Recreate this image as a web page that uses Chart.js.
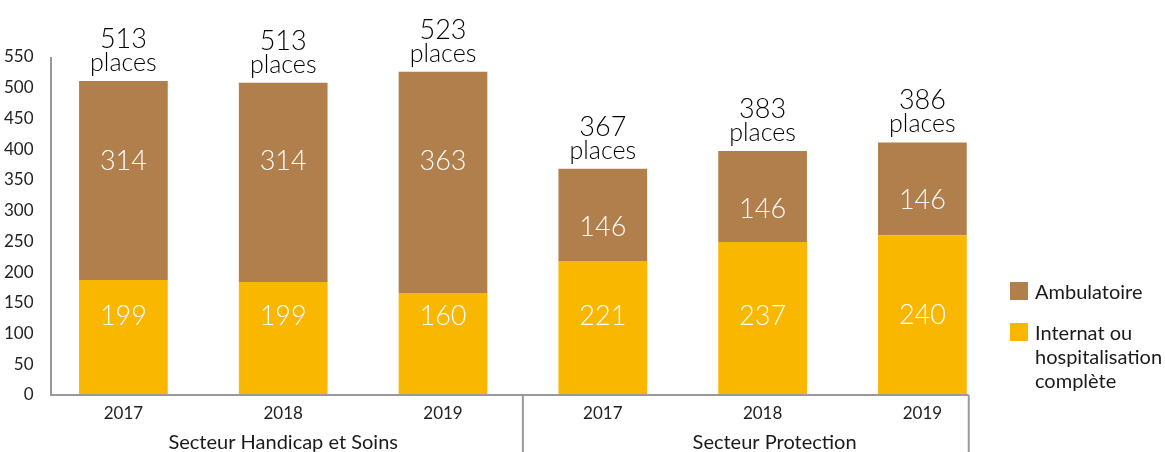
<!DOCTYPE html>
<html>
<head>
<meta charset="utf-8">
<script src="https://cdn.jsdelivr.net/npm/chart.js@4.4.1/dist/chart.umd.min.js"></script>
<style>
  html, body { margin: 0; padding: 0; background: #fff; }
  #wrap { width: 1165px; height: 452px; }
</style>
</head>
<body>
<div id="wrap"><canvas id="chart" width="1165" height="452"></canvas></div>
<script>
// categories
const years = ['2017', '2018', '2019', '2017', '2018', '2019'];
const sectors = ['Secteur Handicap et Soins', 'Secteur Protection'];
const sectorOfBar = [0, 0, 0, 1, 1, 1];

// bar heights as drawn in the picture
const internatBars = [187, 184, 166, 218, 249, 260];
const ambulatoireBars = [324, 324, 360, 150, 148, 151];

// figures printed on the chart
const internatLabels = [199, 199, 160, 221, 237, 240];
const ambulatoireLabels = [314, 314, 363, 146, 146, 146];
const totalLabels = [513, 513, 523, 367, 383, 386];

const yMax = 550;
const yStep = 50;

const FONT = 'Lato, "Open Sans", sans-serif';
const BROWN = '#B07F4B';
const YELLOW = '#F9B700';
const AXIS = '#999999';

const overlay = {
    id: 'overlay',
    afterDraw(chart) {
        const ctx = chart.ctx;
        const area = chart.chartArea;
        const x = chart.scales.x;
        const y = chart.scales.y;
        const low = chart.getDatasetMeta(0).data;
        const high = chart.getDatasetMeta(1).data;
        const last = low[low.length - 1];
        const axisLeft = area.left + 7.5;
        const axisRight = last.x + last.width / 2 + 2;

        ctx.save();
        // axis lines
        ctx.strokeStyle = AXIS;
        ctx.lineWidth = 2;
        ctx.beginPath();
        ctx.moveTo(axisLeft, area.top);
        ctx.lineTo(axisLeft, area.bottom);
        ctx.lineTo(axisRight, area.bottom);
        ctx.stroke();

        // group separators
        const split = (x.getPixelForValue(2) + x.getPixelForValue(3)) / 2;
        ctx.beginPath();
        ctx.moveTo(split, area.bottom);
        ctx.lineTo(split, chart.height);
        ctx.moveTo(axisRight, area.bottom);
        ctx.lineTo(axisRight, chart.height);
        ctx.stroke();

        // group labels
        ctx.fillStyle = '#1a1a1a';
        ctx.font = '20px ' + FONT;
        ctx.textAlign = 'center';
        ctx.textBaseline = 'alphabetic';
        sectors.forEach((name, g) => {
            const idx = sectorOfBar.map((s, i) => s === g ? i : -1).filter(i => i >= 0);
            const cx = idx.reduce((a, i) => a + x.getPixelForValue(i), 0) / idx.length;
            ctx.fillText(name, cx + g * 12, chart.height - 3);
        });

        // labels inside the bars
        ctx.fillStyle = '#ffffff';
        ctx.font = '300 27px ' + FONT;
        ctx.textBaseline = 'middle';
        low.forEach((bar, i) => {
            const mid = (bar.y + bar.base) / 2;
            ctx.fillText(String(internatLabels[i]), bar.x, Math.min(mid, y.getPixelForValue(128)));
        });
        high.forEach((bar, i) => {
            ctx.fillText(String(ambulatoireLabels[i]), bar.x, Math.max(y.getPixelForValue(380), bar.y + 58));
        });

        // totals above the bars
        ctx.fillStyle = '#000000';
        ctx.textBaseline = 'alphabetic';
        high.forEach((bar, i) => {
            ctx.font = '300 27px ' + FONT;
            ctx.fillText(String(totalLabels[i]), bar.x, bar.y - 33);
            ctx.font = '300 25px ' + FONT;
            ctx.fillText('places', bar.x, bar.y - 10);
        });

        // legend
        const lx = 1010;
        const items = chart.data.datasets.slice().reverse();
        const rows = [{ top: 282, lines: [items[0].label] },
                      { top: 323, lines: ['Internat ou', 'hospitalisation', 'complète'] }];
        ctx.textAlign = 'left';
        ctx.font = '20px ' + FONT;
        rows.forEach((r, k) => {
            ctx.fillStyle = items[k].backgroundColor;
            ctx.fillRect(lx, r.top, 18, 18);
            ctx.fillStyle = '#1a1a1a';
            r.lines.forEach((t, j) => ctx.fillText(t, lx + 25, r.top + 17 + j * 24));
        });
        ctx.restore();
    }
};

const ctx = document.getElementById('chart').getContext('2d');
new Chart(ctx, {
    type: 'bar',
    data: {
        labels: years,
        datasets: [{
            label: 'Internat ou hospitalisation complète',
            data: internatBars,
            backgroundColor: YELLOW,
            categoryPercentage: 0.555,
            barPercentage: 1
        }, {
            label: 'Ambulatoire',
            data: ambulatoireBars,
            backgroundColor: BROWN,
            categoryPercentage: 0.555,
            barPercentage: 1
        }]
    },
    options: {
        responsive: false,
        animation: false,
        devicePixelRatio: 1,
        layout: { padding: { top: 57, right: 162.7, left: 0, bottom: 0 } },
        plugins: { legend: { display: false }, tooltip: { enabled: false } },
        scales: {
            x: {
                stacked: true,
                grid: { display: false },
                border: { display: false },
                ticks: { color: '#222', font: { family: FONT, size: 17 }, padding: 0, maxRotation: 0, autoSkip: false },
                afterFit: s => { s.height = 57; }
            },
            y: {
                stacked: true,
                min: 0,
                max: yMax,
                grid: { display: false },
                border: { display: false },
                ticks: { stepSize: yStep, color: '#222', font: { family: FONT, size: 17 }, padding: 2 },
                afterFit: s => { s.width = 43.5; }
            }
        }
    },
    plugins: [overlay]
});
</script>
</body>
</html>
